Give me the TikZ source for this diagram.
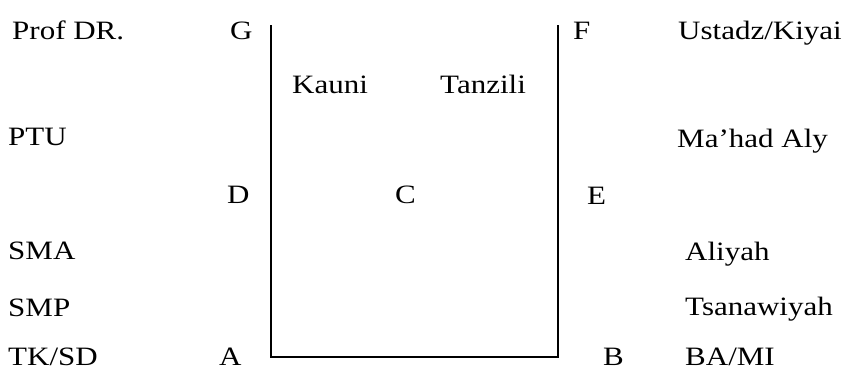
\documentclass[tikz,border=0pt]{standalone}
\usepackage{fontspec}
\setmainfont{Liberation Serif}[FakeStretch=1.17]
\begin{document}
\begin{tikzpicture}[x=1pt,y=-1pt,
  lbl/.style={anchor=base west,inner sep=0pt,font=\fontsize{26.5}{30}\selectfont},
  frame/.style={line width=2pt,line join=miter}]
\useasboundingbox (0,0) rectangle (849,370);
% left column
\node[lbl] (prof) at (12,39) {Prof DR.};
\node[lbl] (ptu) at (8,145) {PTU};
\node[lbl] (sma) at (8,259) {SMA};
\node[lbl] (smp) at (8,316) {SMP};
\node[lbl] (tksd) at (8,365) {TK/SD};
% letters
\node[lbl] (G) at (230,39) {G};
\node[lbl] (D) at (227,203) {D};
\node[lbl] (A) at (219,365) {A};
\node[lbl] (F) at (573,39) {F};
\node[lbl] (E) at (587,204) {E};
\node[lbl] (B) at (603,365) {B};
\node[lbl] (C) at (395,203) {C};
\node[lbl] (kauni) at (292,93) {Kauni};
\node[lbl] (tanzili) at (440,93) {Tanzili};
% right column
\node[lbl] (ustadz) at (678,39) {Ustadz/Kiyai};
\node[lbl] (mahad) at (677,147) {Ma’had Aly};
\node[lbl] (aliyah) at (685,260) {Aliyah};
\node[lbl] (tsana) at (685,315) {Tsanawiyah};
\node[lbl] (bami) at (685,365) {BA/MI};
% frame
\coordinate (tl) at (271,25);
\coordinate (bl) at (271,357);
\coordinate (br) at (558,357);
\coordinate (tr) at (558,25);
\draw[frame] (tl) -- (bl) -- (br) -- (tr);
\end{tikzpicture}
\end{document}
